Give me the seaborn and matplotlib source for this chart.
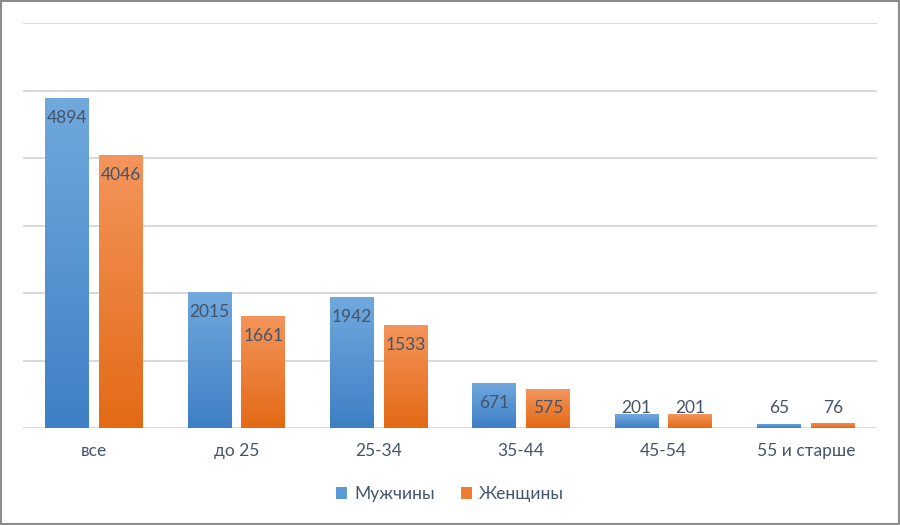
import matplotlib
matplotlib.use("Agg")
import matplotlib.pyplot as plt
import matplotlib.colors as mcolors
from matplotlib.patches import Patch
import numpy as np
import pandas as pd
import seaborn as sns

categories = ["все", "до 25", "25-34", "35-44", "45-54", "55 и старше"]
men = [4894, 2015, 1942, 671, 201, 65]
women = [4046, 1661, 1533, 575, 201, 76]
series = ["Мужчины", "Женщины"]

df = pd.DataFrame({
    "cat": categories * 2,
    "val": men + women,
    "sex": [series[0]] * len(categories) + [series[1]] * len(categories),
})

sns.set_theme(style="white")
plt.rcParams['font.family'] = ['Lato', 'DejaVu Sans']

TXT = "#44546a"

fig = plt.figure(figsize=(9, 5.25), dpi=100)
ax = fig.add_axes([23/900, 97/525, 854/900, 405/525])

palette = {"Мужчины": "#5b9bd5", "Женщины": "#ed7d31"}
sns.barplot(data=df, x="cat", y="val", hue="sex", palette=palette, saturation=1,
            width=0.758, gap=0.185, ax=ax, legend=False, zorder=3, linewidth=0)

ax.set_ylim(0, 6000)
ax.set_xlim(-0.5, len(categories) - 0.5)
ax.set_yticks(range(0, 6001, 1000))
ax.grid(axis="y", color="#d9d9d9", linewidth=1.4, zorder=0)
ax.set_yticklabels([])
ax.tick_params(axis="y", length=0)
ax.tick_params(axis="x", length=0, pad=11, labelsize=12.5, labelcolor=TXT)
for s in ax.spines.values():
    s.set_visible(False)
ax.set_xlabel("")
ax.set_ylabel("")

grads = [("#71a9de", "#3e7fc5"), ("#f4955c", "#e36a15")]
for ci, cont in enumerate(ax.containers):
    top, bot = grads[ci]
    cmap = mcolors.LinearSegmentedColormap.from_list("g%d" % ci, [bot, top])
    for p in cont.patches:
        x0, y0 = p.get_x(), p.get_y()
        w, h = p.get_width(), p.get_height()
        if h <= 0:
            continue
        grad = np.linspace(0, 1, 256).reshape(-1, 1)
        im = ax.imshow(grad, cmap=cmap, aspect="auto", origin="lower",
                       extent=[x0, x0 + w, y0, y0 + h], zorder=3.5)
        im.set_clip_path(p)
        ax.text(x0 + w / 2, max(h - 300, 300), f"{int(round(h))}",
                ha="center", va="center", fontsize=12.5, color=TXT, zorder=5)

ax.set_xlim(-0.5, len(categories) - 0.5)
ax.set_ylim(0, 6000)

handles = [Patch(facecolor=palette[s], edgecolor="none") for s in series]
fig.legend(handles, series, loc="center", bbox_to_anchor=(0.5, 1 - 494/525),
           ncol=2, frameon=False, fontsize=12.5, labelcolor=TXT,
           handlelength=0.65, handleheight=0.65, handletextpad=0.4, columnspacing=1.5)

border = plt.Rectangle((0.001, 0.001), 0.998, 0.997, transform=fig.transFigure,
                       fill=False, edgecolor="#8c8c8c", linewidth=1.5)
fig.patches.append(border)

fig.savefig("out.png", dpi=100)
